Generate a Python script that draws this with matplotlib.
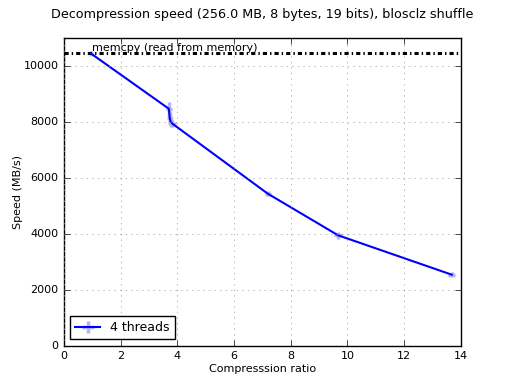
import numpy as np
import matplotlib
matplotlib.use("Agg")
import matplotlib.pyplot as plt

# Data
ratio = [0.95, 3.70, 3.73, 3.76, 3.82, 7.19, 9.67, 13.68]
speed = [10460, 8480, 8150, 8020, 7950, 5440, 3950, 2540]
ratio_err = [0.06, 0.1, 0.08, 0.1, 0.12, 0.1, 0.14, 0.12]
speed_err = [80, 250, 200, 180, 140, 100, 130, 90]
memcpy_speed = 10464
title = "Decompression speed (256.0 MB, 8 bytes, 19 bits), blosclz shuffle"

plt.style.use('classic')
fig = plt.figure(figsize=(5.12, 3.84), dpi=100)
ax = fig.add_subplot(111)

ax.errorbar(ratio, speed, xerr=ratio_err, yerr=speed_err, color='b',
            ecolor=(0.7, 0.7, 1.0), elinewidth=2.5, capsize=0,
            linewidth=1.5, label="4 threads")
ax.axhline(memcpy_speed, color='k', linewidth=2.2,
           linestyle=(0, (3, 2.2, 1, 2.2)))
ax.text(1.0, memcpy_speed + 20, "memcpy (read from memory)", fontsize=8,
        va='bottom')

ax.set_xlim(0, 14)
ax.set_ylim(0, 11000)
ax.set_xlabel("Compresssion ratio", fontsize=8, labelpad=2)
ax.set_ylabel("Speed (MB/s)", fontsize=8, labelpad=0)
ax.tick_params(labelsize=8)
ax.grid(True, color='0.6', linestyle=':')
ax.legend(loc='lower left', fontsize=9, numpoints=1)
fig.suptitle(title, fontsize=9.2, x=0.5125)

fig.savefig("out.png", dpi=100)
